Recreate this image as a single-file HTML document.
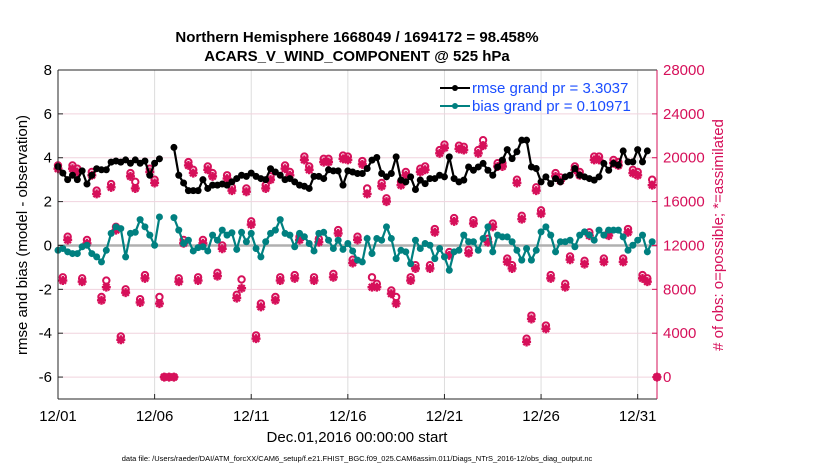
<!DOCTYPE html>
<html><head><meta charset="utf-8"><style>
body{margin:0;background:#fff;}
svg{display:block;font-family:"Liberation Sans",Arial,sans-serif;}
</style></head><body>
<svg id="chart" width="830" height="470" xmlns="http://www.w3.org/2000/svg">
<g font-weight="bold" font-size="15" text-anchor="middle">
<text x="357" y="42">Northern Hemisphere 1668049 / 1694172 = 98.458%</text>
<text x="357" y="61">ACARS_V_WIND_COMPONENT @ 525 hPa</text>
</g>
<g id="grid"></g>
<g id="marks"></g>
<g id="axes"></g>
<g font-size="15" fill="#1a4dff">
<line x1="440" y1="88" x2="470" y2="88" stroke="#000" stroke-width="2"/>
<circle cx="455" cy="88" r="3" fill="#000"/>
<text x="472" y="93">rmse grand pr = 3.3037</text>
<line x1="440" y1="106" x2="470" y2="106" stroke="#008080" stroke-width="2"/>
<circle cx="455" cy="106" r="3" fill="#008080"/>
<text x="472" y="111">bias grand pr = 0.10971</text>
</g>
<text font-size="15" text-anchor="middle" transform="translate(27,235) rotate(-90)">rmse and bias (model - observation)</text>
<text font-size="15" fill="#d6105a" text-anchor="middle" transform="translate(723,235) rotate(-90)"># of obs: o=possible; *=assimilated</text>
<text font-size="15" text-anchor="middle" x="357" y="442">Dec.01,2016 00:00:00 start</text>
<text font-size="7.5" text-anchor="middle" x="357" y="461">data file: /Users/raeder/DAI/ATM_forcXX/CAM6_setup/f.e21.FHIST_BGC.f09_025.CAM6assim.011/Diags_NTrS_2016-12/obs_diag_output.nc</text>
</svg>
<script>
const rmse=[3.6,3.3,3.0,3.2,3.0,3.4,2.8,3.2,3.5,3.45,3.45,3.8,3.85,3.8,3.9,3.75,3.9,3.75,3.85,3.2,3.75,3.95,null,null,4.47,3.2,2.85,2.5,2.5,2.5,3.0,2.6,2.75,2.75,2.8,2.75,2.9,3.05,3.2,3.15,3.3,3.15,3.05,3.0,3.5,3.35,3.2,3.0,3.05,2.9,2.75,2.7,2.6,3.15,3.15,3.05,3.45,3.4,3.4,2.75,3.4,3.35,3.28,3.28,3.51,3.89,4.01,3.28,3.13,3.28,4.04,2.98,2.9,3.13,2.55,2.98,2.82,3.05,3.05,3.2,3.13,4.04,3.05,2.9,2.98,3.58,3.43,3.58,3.74,3.43,3.2,3.58,3.89,4.37,3.96,4.27,4.8,4.8,3.58,3.51,2.9,3.13,2.82,3.05,2.9,3.13,3.2,3.51,3.2,3.13,3.05,2.98,3.13,3.74,3.43,3.74,3.66,4.31,3.81,3.81,4.37,3.81,4.31];
const bias=[-0.22,-0.14,-0.29,-0.37,-0.37,-0.06,0.01,-0.37,-0.52,-0.75,-0.22,0.55,0.85,0.77,-0.52,0.55,0.6,1.18,0.85,0.47,0.01,1.3,null,null,1.27,0.7,0.09,0.24,-0.25,-0.1,-0.06,-0.25,0.47,0.24,0.7,0.47,0.58,-0.18,0.6,0.17,0.55,-0.14,-0.52,0.17,0.55,0.7,1.18,0.55,0.47,-0.06,0.55,0.4,0.09,-0.25,0.55,0.6,0.24,-0.14,0.24,-0.18,0.09,-0.25,-0.67,-0.75,0.32,-0.37,0.32,0.24,0.85,0.32,-0.6,-0.22,-0.29,-0.83,0.24,-0.14,0.09,0.01,-0.6,-0.14,-0.52,-1.13,-0.29,-0.22,0.47,0.17,0.17,-0.22,0.32,0.85,-0.29,0.47,0.39,0.39,0.17,-0.22,-0.67,-0.14,-0.67,-0.22,0.62,0.85,0.47,-0.29,0.17,0.17,0.24,-0.06,0.47,0.62,0.47,0.24,0.7,0.47,0.7,0.7,0.7,0.39,-0.22,0.01,0.24,0.47,-0.29,0.17];
const obsAssim=[19000,8800,12500,19000,18700,8700,12200,18400,16700,7000,8200,17300,13400,3400,7700,18300,17200,6800,9000,18700,17700,6700,0,0,0,8700,12200,19300,18600,8800,12200,18900,18300,9200,11700,18100,17000,7200,8100,16900,13900,3500,6400,17200,18000,7000,8800,19000,18400,9000,12500,19800,18900,8800,12300,19600,19600,9100,13100,19900,19800,10400,12500,19400,16700,8200,8200,17400,16000,7600,6700,17500,18400,8800,9900,18700,18900,9900,13200,20400,20900,11100,14200,20800,20700,11300,14000,20400,21100,12300,13700,19200,19200,10500,9900,17700,14400,3200,5300,17000,14900,4400,9000,18300,17900,8200,10700,18900,18400,10300,12900,19800,19800,10500,12900,19500,19300,10500,13200,18600,18400,9000,8700,17500,0];
const obsPossible=[19300,9100,12800,19300,19000,9000,12500,18700,17000,7300,8800,17600,13700,3700,8000,18600,17800,7100,9300,19000,18000,7300,0,0,0,9000,12500,19600,18900,9100,12500,19200,18600,9500,12000,18400,17300,7500,8900,17200,14200,3800,6700,17500,18300,7300,9100,19300,18700,9300,12800,20100,19200,9100,12600,19900,19900,9400,13400,20200,20100,10700,12800,19700,17200,9100,8500,17700,16300,7900,7300,17800,18700,9100,10200,19000,19200,10200,13500,20700,21200,11400,14500,21100,21000,11600,14300,20700,21600,12600,14000,19500,19500,10800,10200,18000,14700,3500,5600,17300,15200,4700,9300,18600,18200,8500,11000,19200,18700,10600,13200,20100,20100,10800,13200,19800,19600,10800,13500,18900,18700,9300,9000,18000,0];
const xTickLabels=["12/01","12/06","12/11","12/16","12/21","12/26","12/31"];
const xTickDays=[0,5,10,15,20,25,30];
const yTicks=[8,6,4,2,0,-2,-4,-6];
const y2Ticks=[28000,24000,20000,16000,12000,8000,4000,0];

const L=58,R=657,T=70,B=399,XMAX=31,YMIN=-7,YMAX=8;
const NS="http://www.w3.org/2000/svg";
function xd(d){return L+(d/XMAX)*(R-L);}
function xi(i){return xd(i/4);}
function y(v){return B-(v-YMIN)/(YMAX-YMIN)*(B-T);}
function y2(c){return y(c/2000-6);}
function mk(tag,attrs,parent){const e=document.createElementNS(NS,tag);for(const k in attrs)e.setAttribute(k,attrs[k]);parent.appendChild(e);return e;}
const grid=document.getElementById('grid'),marks=document.getElementById('marks'),axes=document.getElementById('axes');
mk('rect',{x:L,y:T,width:R-L,height:B-T,fill:'#fff'},grid);
xTickDays.forEach((d,k)=>{
  const g=mk('line',{x1:xd(d),x2:xd(d),y1:T,y2:B,stroke:'#dcdcdc','stroke-width':1},grid);
  
  
  mk('line',{x1:xd(d),x2:xd(d),y1:B,y2:B-5,stroke:'#262626'},axes);
  const t=mk('text',{x:xd(d),y:421,'font-size':15,'text-anchor':'middle'},axes);
  t.textContent=xTickLabels[k];
  
  
});
yTicks.forEach(v=>{
  const g=mk('line',{x1:L,x2:R,y1:y(v),y2:y(v),stroke:'#f0d3de','stroke-width':1},grid);
  
  
  mk('line',{x1:L,x2:L+5,y1:y(v),y2:y(v),stroke:'#262626'},axes);
  const t=mk('text',{x:52,y:y(v)+5,'font-size':15,'text-anchor':'end'},axes);
  t.textContent=v;
  
  
});
y2Ticks.forEach(c=>{
  mk('line',{x1:R,x2:R-5,y1:y2(c),y2:y2(c),stroke:'#d6105a'},axes);
  const t=mk('text',{x:663,y:y2(c)+5,'font-size':15,fill:'#d6105a'},axes);
  t.textContent=c;
  
  
});
mk('line',{x1:L,x2:L,y1:T,y2:B,stroke:'#262626'},axes);
mk('line',{x1:L,x2:R,y1:T,y2:T,stroke:'#262626'},axes);
mk('line',{x1:L,x2:R,y1:B,y2:B,stroke:'#262626'},axes);
mk('line',{x1:R,x2:R,y1:T,y2:B,stroke:'#d6105a'},axes);
const z=mk('line',{x1:L,x2:R,y1:y(0),y2:y(0),stroke:'#b0b0b0','stroke-width':2.5},marks);


obsAssim.forEach((c,i)=>{
  const g=mk('g',{fill:'none',stroke:'#d6105a','stroke-width':2},marks);
  
  
  const cx=xi(i),pc=y2(obsPossible[i]),ac=y2(c);
  mk('circle',{cx:cx,cy:pc,r:3.2},g);
  const s=4.5;
  mk('path',{d:`M${cx-s} ${ac}H${cx+s}M${cx} ${ac-s}V${ac+s}M${cx-3.2} ${ac-3.2}L${cx+3.2} ${ac+3.2}M${cx-3.2} ${ac+3.2}L${cx+3.2} ${ac-3.2}`,'stroke-width':2.4},g);
});
function series(arr,color,name){
  let d='',pen=false;
  arr.forEach((v,i)=>{if(v===null){pen=false;return;}d+=(pen?'L':'M')+xi(i).toFixed(1)+' '+y(v).toFixed(1);pen=true;});
  const p=mk('path',{d:d,fill:'none',stroke:color,'stroke-width':2.2},marks);
  
  
  arr.forEach((v,i)=>{if(v===null)return;
    const c=mk('circle',{cx:xi(i),cy:y(v),r:3.5,fill:color},marks);
    
    
  });
}
series(bias,'#008080','bias');
series(rmse,'#000','rmse');
</script>
</body></html>
